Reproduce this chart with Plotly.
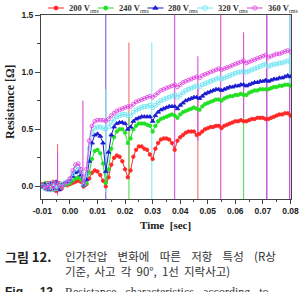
import plotly.graph_objects as go

# ---------------- data ----------------
time_ms = [-10, -9, -8, -7, -6, -5, -4, -3, -2, -1, 0, 1, 2, 3, 4, 5,
           6, 7, 8, 9, 10, 11, 12, 13,
           14, 15, 16, 17, 18, 19, 20, 21,
           22, 23, 24, 25, 26, 27, 28, 29, 30,
           31, 32, 33, 34, 35, 36, 37, 38,
           39, 40, 41, 42, 43, 44, 45, 46,
           47, 48, 49, 50, 51, 52, 53, 54, 55,
           56, 57, 58, 59, 60, 61, 62, 63,
           64, 65, 66, 67, 68, 69, 70, 71,
           72, 73, 74, 75, 76, 77, 78, 79, 80]

r_200 = [0.02, -0.02, 0.03, -0.03, 0.04, -0.04, 0.03, -0.02, 0.02, 0.01, 0.02, 0.03, 0.04, 0.05, 0.04, 0.00,
         0.02, 0.07, 0.12, 0.14, 0.13, 0.10, 0.05, 0.00,
         0.08, 0.19, 0.25, 0.27, 0.26, 0.22, 0.15, 0.08,
         0.14, 0.26, 0.32, 0.35, 0.35, 0.33, 0.32, 0.28, 0.24,
         0.33, 0.38, 0.41, 0.42, 0.42, 0.41, 0.38, 0.32,
         0.40, 0.43, 0.45, 0.47, 0.48, 0.48, 0.48, 0.45,
         0.46, 0.48, 0.50, 0.51, 0.52, 0.52, 0.53, 0.53, 0.51,
         0.53, 0.54, 0.55, 0.56, 0.57, 0.57, 0.58, 0.57,
         0.57, 0.58, 0.59, 0.59, 0.60, 0.60, 0.60, 0.59,
         0.59, 0.60, 0.61, 0.62, 0.63, 0.63, 0.64, 0.64, 0.62]

r_240 = [0.01, 0.03, -0.02, 0.02, -0.03, 0.03, -0.02, 0.02, 0.01, 0.02, 0.03, 0.05, 0.07, 0.08, 0.06, 0.01,
         0.03, 0.12, 0.24, 0.31, 0.32, 0.29, 0.20, 0.03,
         0.15, 0.33, 0.43, 0.48, 0.50, 0.50, 0.47, 0.38,
         0.42, 0.50, 0.53, 0.55, 0.55, 0.55, 0.54, 0.53, 0.48,
         0.53, 0.57, 0.59, 0.60, 0.61, 0.62, 0.63, 0.62,
         0.60, 0.63, 0.65, 0.66, 0.67, 0.68, 0.69, 0.68,
         0.67, 0.70, 0.72, 0.73, 0.74, 0.75, 0.76, 0.76, 0.75,
         0.77, 0.78, 0.79, 0.79, 0.80, 0.80, 0.81, 0.80,
         0.80, 0.82, 0.83, 0.84, 0.84, 0.85, 0.85, 0.85,
         0.85, 0.86, 0.87, 0.87, 0.88, 0.88, 0.89, 0.89, 0.88]

r_280 = [-0.01, 0.02, -0.03, 0.03, -0.02, 0.04, -0.03, 0.01, 0.03, 0.04, 0.05, 0.09, 0.12, 0.13, 0.10, 0.01,
         0.06, 0.22, 0.38, 0.45, 0.46, 0.44, 0.38, 0.13,
         0.30, 0.45, 0.52, 0.55, 0.56, 0.56, 0.55, 0.50,
         0.52, 0.57, 0.59, 0.60, 0.61, 0.61, 0.61, 0.61, 0.57,
         0.62, 0.65, 0.67, 0.68, 0.69, 0.70, 0.70, 0.70,
         0.68, 0.71, 0.73, 0.75, 0.76, 0.77, 0.78, 0.78,
         0.77, 0.79, 0.81, 0.82, 0.83, 0.84, 0.85, 0.85, 0.84,
         0.85, 0.86, 0.87, 0.87, 0.88, 0.88, 0.89, 0.89,
         0.88, 0.89, 0.90, 0.91, 0.91, 0.92, 0.92, 0.93,
         0.92, 0.93, 0.94, 0.94, 0.95, 0.95, 0.96, 0.97, 0.96]

r_320 = [0.00, -0.02, 0.02, -0.03, 0.03, -0.02, 0.02, 0.00, 0.03, 0.04, 0.06, 0.11, 0.15, 0.17, 0.13, 0.02,
         0.10, 0.33, 0.47, 0.51, 0.52, 0.52, 0.51, 0.50,
         0.52, 0.56, 0.59, 0.61, 0.62, 0.63, 0.63, 0.62,
         0.62, 0.65, 0.67, 0.68, 0.69, 0.70, 0.70, 0.71, 0.69,
         0.71, 0.73, 0.75, 0.76, 0.77, 0.78, 0.79, 0.80,
         0.78, 0.80, 0.82, 0.84, 0.85, 0.86, 0.87, 0.88,
         0.87, 0.89, 0.90, 0.91, 0.92, 0.93, 0.94, 0.95, 0.94,
         0.95, 0.96, 0.97, 0.98, 0.99, 1.00, 1.00, 1.01,
         1.00, 1.01, 1.02, 1.03, 1.04, 1.05, 1.06, 1.07,
         1.05, 1.06, 1.07, 1.07, 1.08, 1.08, 1.09, 1.10, 1.09]

r_360 = [0.01, 0.00, -0.01, 0.02, -0.02, 0.03, 0.01, -0.01, 0.02, 0.04, 0.07, 0.14, 0.19, 0.20, 0.15, 0.03,
         0.15, 0.40, 0.53, 0.57, 0.58, 0.58, 0.58, 0.57,
         0.59, 0.62, 0.64, 0.66, 0.67, 0.68, 0.69, 0.70,
         0.70, 0.72, 0.74, 0.75, 0.76, 0.77, 0.78, 0.79, 0.78,
         0.80, 0.82, 0.84, 0.85, 0.86, 0.87, 0.88, 0.89,
         0.87, 0.89, 0.91, 0.92, 0.93, 0.94, 0.95, 0.96,
         0.95, 0.97, 0.98, 0.99, 1.00, 1.01, 1.02, 1.03, 1.02,
         1.03, 1.04, 1.05, 1.06, 1.07, 1.08, 1.09, 1.10,
         1.08, 1.09, 1.10, 1.11, 1.12, 1.13, 1.14, 1.15,
         1.13, 1.14, 1.15, 1.16, 1.16, 1.17, 1.18, 1.19, 1.18]

series_names = ["200 V", "240 V", "280 V", "320 V", "360 V"]
series_values = [r_200, r_240, r_280, r_320, r_360]

# transient spikes at the switching instants: (series, time [s], low, high)
spike_series = ["200 V", "360 V", "360 V", "280 V", "320 V", "200 V", "240 V", "320 V", "360 V",
                "200 V", "360 V", "360 V", "240 V", "360 V", "280 V", "360 V", "280 V", "360 V", "320 V"]
spike_time = [-0.0045, -0.0045, 0.0047, 0.0130, 0.0130, 0.0214, 0.0214, 0.0297, 0.0380,
              0.0464, 0.0464, 0.0547, 0.0630, 0.0630, 0.0714, 0.0714, 0.0797, 0.0797, 0.0797]
spike_low = [-0.06, -0.08, -0.02, -0.12, -0.05, 0.10, -0.12, -0.12, -0.12,
             -0.12, 0.40, -0.12, -0.12, 0.60, -0.12, -0.12, -0.12, -0.12, 0.90]
spike_high = [0.37, 0.30, 0.75, 1.60, 0.85, 1.26, 0.60, 1.26, 1.60,
              0.90, 1.14, 1.60, 0.90, 1.35, 1.60, 1.49, 1.60, 1.60, 1.60]

x_ticks = [-0.01, 0.00, 0.01, 0.02, 0.03, 0.04, 0.05, 0.06, 0.07, 0.08]
x_ticklabels = ["-0.01", "0.00", "0.01", "0.02", "0.03", "0.04", "0.05", "0.06", "0.07", "0.08"]
x_minor = [-0.005, 0.005, 0.015, 0.025, 0.035, 0.045, 0.055, 0.065, 0.075]
y_ticks = [0.0, 0.5, 1.0, 1.5]
y_ticklabels = ["0.0", "0.5", "1.0", "1.5"]
y_minor = [0.25, 0.75, 1.25]

# ---------------- styles ----------------
W, H = 301, 292
colors = {"200 V": "#ff2626", "240 V": "#22e022", "280 V": "#1a1ad0",
          "320 V": "#70e4f2", "360 V": "#e040e0"}
spike_colors = {"200 V": "#f07070", "240 V": "#50e050", "280 V": "#7a5ad8",
                "320 V": "#80e8f4", "360 V": "#d850d8"}
symbols = {"200 V": "circle", "240 V": "circle", "280 V": "triangle-up",
           "320 V": "square-open", "360 V": "circle-open"}
msize = {"200 V": 3.5, "240 V": 3.5, "280 V": 4.2, "320 V": 3.6, "360 V": 3.8}

def fx(px):
    return px / W

def fy(py):
    return 1 - py / H

times = [t / 1000.0 for t in time_ms]

fig = go.Figure()

for s, t, lo, hi in zip(spike_series, spike_time, spike_low, spike_high):
    fig.add_trace(go.Scatter(x=[t, t], y=[lo, hi], mode="lines",
                             line=dict(color=spike_colors[s], width=1.1),
                             showlegend=False, hoverinfo="skip"))

for name, vals in zip(series_names, series_values):
    fig.add_trace(go.Scatter(
        x=times, y=vals, mode="lines+markers", name=name,
        line=dict(color=colors[name], width=1),
        marker=dict(symbol=symbols[name], size=msize[name], color=colors[name],
                    line=dict(color=colors[name], width=0.8)),
        showlegend=False))

# custom one-row legend above the plot (on a hidden helper axis in pixel units)
LEG_X0, LEG_STEP, LEG_LEN = 48, 49.7, 16
for i, name in enumerate(series_names):
    x0 = LEG_X0 + LEG_STEP * i
    fig.add_trace(go.Scatter(x=[x0, x0 + LEG_LEN], y=[0.5, 0.5], mode="lines",
                             line=dict(color=colors[name], width=1),
                             xaxis="x2", yaxis="y2", showlegend=False, hoverinfo="skip"))
    fig.add_trace(go.Scatter(x=[x0 + LEG_LEN / 2], y=[0.5], mode="markers",
                             marker=dict(symbol=symbols[name], size=msize[name] + 0.5,
                                         color=colors[name],
                                         line=dict(color=colors[name], width=0.8)),
                             xaxis="x2", yaxis="y2", showlegend=False, hoverinfo="skip"))
    fig.add_annotation(x=x0 + LEG_LEN + 3, y=0.5, xref="x2", yref="y2",
                       text="<b>" + name + "</b><sub>rms</sub>", showarrow=False,
                       xanchor="left", yanchor="middle",
                       font=dict(family="Liberation Serif", size=8.5, color="#333"))

tickfont = dict(family="Liberation Sans", size=8.5, color="#222", weight="bold")

fig.update_layout(
    width=W, height=H,
    margin=dict(l=0, r=0, t=0, b=0),
    paper_bgcolor="white", plot_bgcolor="rgba(0,0,0,0)",
    showlegend=False,
    xaxis=dict(domain=[fx(41), fx(291)], range=[-0.0105, 0.0802], anchor="y",
               tickmode="array", tickvals=x_ticks, ticktext=x_ticklabels,
               ticks="outside", ticklen=4, tickwidth=1, tickcolor="#444",
               minor=dict(tickvals=x_minor, ticks="outside", ticklen=2, tickcolor="#444"),
               showline=True, linecolor="#444", linewidth=1, mirror=True,
               showgrid=False, zeroline=False, tickfont=tickfont, automargin=False),
    yaxis=dict(domain=[fy(199), fy(15)], range=[-0.11, 1.5], anchor="x",
               tickmode="array", tickvals=y_ticks, ticktext=y_ticklabels,
               ticks="outside", ticklen=5, tickwidth=1, tickcolor="#444",
               minor=dict(tickvals=y_minor, ticks="outside", ticklen=3, tickcolor="#444"),
               showline=True, linecolor="#444", linewidth=1, mirror=True,
               showgrid=False, zeroline=False, tickfont=tickfont, automargin=False),
    xaxis2=dict(domain=[0, 1], range=[0, W], anchor="y2", visible=False, fixedrange=True),
    yaxis2=dict(domain=[fy(14), fy(2)], range=[0, 1], anchor="x2", visible=False, fixedrange=True),
)

# axis titles
fig.add_annotation(x=fx(10), y=fy(102), xref="paper", yref="paper", text="<b>Resistance [Ω]</b>",
                   textangle=-90, showarrow=False, xanchor="center", yanchor="middle",
                   font=dict(family="Liberation Serif", size=12, color="#222"))
fig.add_annotation(x=fx(166), y=fy(225), xref="paper", yref="paper", text="<b>Time  [sec]</b>",
                   showarrow=False, xanchor="center", yanchor="middle",
                   font=dict(family="Liberation Serif", size=11, color="#222"))

# caption
NB = "\u00a0"
cap_font = dict(family="Noto Sans CJK KR", size=11.5, color="#333")
fig.add_annotation(x=fx(3), y=fy(256), xref="paper", yref="paper", text="<b>그림 12.</b>",
                   showarrow=False, xanchor="left", yanchor="middle",
                   font=dict(family="Noto Sans CJK KR", size=13, color="#222"))
fig.add_annotation(x=fx(63), y=fy(256), xref="paper", yref="paper",
                   text=("인가전압" + NB * 4 + "변화에" + NB * 4 + "따른" + NB * 4 + "저항" + NB * 4 +
                         "특성" + NB * 4 + "(R상"),
                   showarrow=False, xanchor="left", yanchor="middle", font=cap_font)
fig.add_annotation(x=fx(63), y=fy(271), xref="paper", yref="paper",
                   text="기준," + NB * 2 + "사고" + NB * 2 + "각" + NB * 2 + "90°," + NB * 2 + "1선" + NB * 2 + "지락사고)",
                   showarrow=False, xanchor="left", yanchor="middle", font=cap_font)
fig.add_annotation(x=fx(3), y=fy(283), xref="paper", yref="paper",
                   text="<b>Fig." + NB * 4 + "12.</b>",
                   showarrow=False, xanchor="left", yanchor="top",
                   font=dict(family="Liberation Sans", size=12, color="#222"))
fig.add_annotation(x=fx(63), y=fy(283), xref="paper", yref="paper",
                   text="Resistance" + NB * 3 + "characteristics" + NB * 3 + "according" + NB * 3 + "to",
                   showarrow=False, xanchor="left", yanchor="top",
                   font=dict(family="Liberation Serif", size=12, color="#333"))

fig.write_html("out.html")
